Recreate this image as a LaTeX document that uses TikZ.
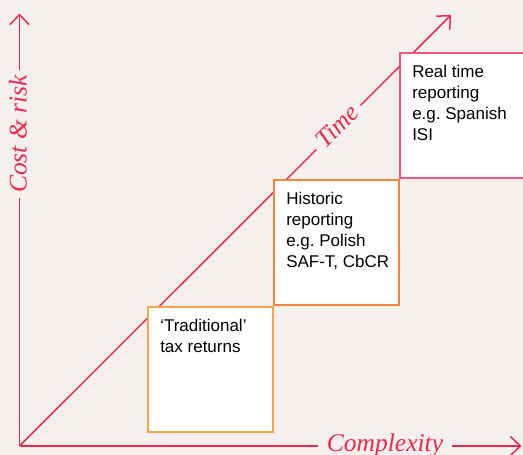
\documentclass[tikz,border=0pt]{standalone}
\usepackage{fontspec}
\setmainfont{Liberation Sans}
\newfontfamily\axisfont{Liberation Serif}
\usetikzlibrary{arrows.meta}
\definecolor{bg}{HTML}{F3F0ED}
\definecolor{axisred}{HTML}{EC2A4E}
\definecolor{boxA}{HTML}{F9A54C}
\definecolor{boxB}{HTML}{F4873C}
\definecolor{boxC}{HTML}{F0567A}
\frenchspacing
\begin{document}
\begin{tikzpicture}[x=1pt,y=-1pt,
  axis/.style={draw=axisred,line width=1.5pt,-{Straight Barb[length=10pt,width=19pt]}},
  axlabel/.style={fill=bg,text=axisred,font=\axisfont\itshape\fontsize{25.5}{28}\selectfont,inner ysep=2pt},
  stagebox/.style={draw=#1,fill=white,line width=1.5pt,anchor=north west,inner sep=12.5pt,
    font=\fontsize{17}{21}\selectfont,text=black}]
\useasboundingbox[fill=bg] (0,0) rectangle (523,455);
\coordinate (O) at (19.5,446);
\coordinate (Ytip) at (19.5,13.5);
\coordinate (Xtip) at (521.5,446);
\coordinate (Ttip) at (451,15);
\draw[axis] (O) -- (Ytip);
\draw[axis] (O) -- (Xtip);
\draw[axis] (O) -- (Ttip);
\node[axlabel,anchor=base,inner xsep=9pt] (cx) at (385,451.5) {Complexity};
\node[axlabel,anchor=base,rotate=90,inner xsep=5.5pt] (cr) at (26.7,134) {Cost \& risk};
\node[axlabel,anchor=base,rotate=45,inner xsep=6.3pt] (tm) at (343,132) {Time};
\node[stagebox=boxA] (b1) at (147,306) {\parbox[t][100pt][t]{100pt}{\raggedright ‘Traditional’\\tax returns}};
\node[stagebox=boxB] (b2) at (273,179) {\parbox[t][100pt][t]{100pt}{\raggedright Historic\\reporting\\e.g. Polish\\\mbox{SAF-T, CbCR}}};
\node[stagebox=boxC] (b3) at (399,52) {\parbox[t][100pt][t]{100pt}{\raggedright Real time\\reporting\\\mbox{e.g. Spanish}\\ISI}};
\end{tikzpicture}
\end{document}
